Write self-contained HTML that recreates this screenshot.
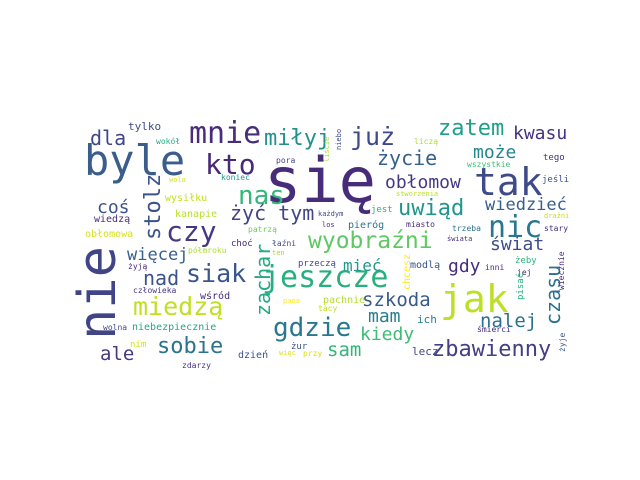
<!DOCTYPE html>
<html><head><meta charset="utf-8"><style>
html,body{margin:0;padding:0;background:#fff;width:640px;height:480px;overflow:hidden}
svg text{font-family:"DejaVu Sans Mono","Liberation Mono",monospace}
</style></head><body>
<svg id="cloud" width="640" height="480" viewBox="0 0 640 480"></svg>
<script>
const words = ["się","byle","nie","jak","tak","nic","mnie","kto","nas","czy","stolz","miłyj","już","zatem","kwasu","może","życie","obłomow","uwiąd","wiedzieć","dla","coś","tylko","żyć tym","wyobraźni","zachar","jeszcze","siak","więcej","nad","miedzą","sobie","ale","gdzie","mam","kiedy","sam","mieć","gdy","świat","szkoda","nalej","czasu","zbawienny","ich","lecz","modlą","chcesz","inni","żeby","jej","pisać","śmierci","wiecznie","żyje","pachnie","tacy","przy","więc","żur","pana","przeczą","ten","łaźni","choć","półmroku","żyją","człowieka","wśród","wolna","niebezpiecznie","nim","dzień","zdarzy","wysiłku","kanapie","wiedzą","obłomowa","patrzą","wola","koniec","wokół","pora","niebo","liście","liczą","wszystkie","tego","jeśli","stworzenia","jest","każdym","los","pieróg","miasto","trzeba","świata","stary","drażni"];
const sizes = [62,42,52,38,38,30,30,28,26,28,22,22,25,22,18,18,20,18,22,17,20,18,11,20,23,20,30,25,17,20,25,22,19,26,18,18,19,16,18,18,19,19,20,22,11,11,10,10,8,9,8,9,8,8,8,10,8,8,7,9,7,9,7,8,9,8,8,8,10,8,10,9,10,8,10,10,10,10,8,7,8,8,8,7,7,8,8,9,9,7,9,7,7,10,8,8,7,8,7];
const xs = [264,84,115,440,474,488,189,205,238,166,160,264,350,438,513,473,377,385,398,485,90,97,128,230,308,270,262,186,127,143,133,157,100,273,368,360,327,343,448,490,362,480,560,432,417,412,410,410,485,515,517,523,477,564,565,323,318,303,279,291,283,298,272,272,231,188,128,133,200,103,132,130,238,182,165,175,94,85,248,169,221,156,276,341,329,414,467,543,542,396,371,318,322,348,406,452,447,544,544];
const ys = [202,175,340,312,195,237,143,174,204,241,240,145,145,135,139,158,165,188,215,210,145,213,130,220,248,316,287,282,260,285,315,353,360,336,322,340,356,271,272,250,306,327,325,356,323,355,268,290,270,263,275,300,332,290,352,303,311,356,355,349,303,266,255,246,246,253,269,293,299,330,330,347,358,368,201,217,222,237,232,182,180,144,163,150,162,144,167,160,182,196,212,216,227,228,227,231,241,231,218];
const colors = ["#472c7a","#3b5d8b","#414487","#bddf26","#3e4a89","#2a788e","#472d7b","#482878","#35b779","#443983","#3b528b","#21918c","#3e4989","#1f9e89","#46327e","#25858e","#34618d","#443a83","#1f968b","#355f8d","#404688","#3b528b","#3e4c8a","#414487","#5ec962","#25ab82","#29af7f","#39568c","#355f8d","#3b528b","#c0df25","#2c728e","#443983","#2a788e","#277f8e","#3dbc74","#31b57b","#1f9a8a","#472c7a","#3e4c8a","#38598c","#2c728e","#2d708e","#433e85","#277f8e","#3e4989","#3b528b","#fde725","#482878","#2db27d","#482677","#28ae80","#482878","#482878","#39568c","#b5de2b","#c0df25","#d8e219","#dde318","#3b528b","#fde725","#3e4a89","#a2da37","#3e4989","#482374","#addc30","#482878","#443983","#472d7b","#3e4c8a","#21a685","#d2e21b","#3b528b","#46307e","#c2df23","#bade28","#472d7b","#d8e219","#6ece58","#dde318","#1f9a8a","#26ad81","#414487","#3e4a89","#a8db34","#addc30","#3dbc74","#46307e","#3b528b","#bddf26","#2ab07f","#3e4989","#472c7a","#2c728e","#482878","#2c728e","#46327e","#472d7b","#c8e020"];
const vertical = ["nie","stolz","zachar","czasu","chcesz","pisać","wiecznie","żyje","niebo","liście"];
const svg = document.getElementById('cloud');
const NS = 'http://www.w3.org/2000/svg';
for (let i = 0; i < words.length; i++) {
  const t = document.createElementNS(NS, 'text');
  
  
  t.setAttribute('font-size', sizes[i]);
  t.setAttribute('fill', colors[i]);
  if (vertical.includes(words[i])) {
    t.setAttribute('transform', 'translate(' + xs[i] + ',' + ys[i] + ') rotate(-90)');
  } else {
    t.setAttribute('x', xs[i]);
    t.setAttribute('y', ys[i]);
  }
  t.textContent = words[i];
  svg.appendChild(t);
}
</script>
</body></html>
